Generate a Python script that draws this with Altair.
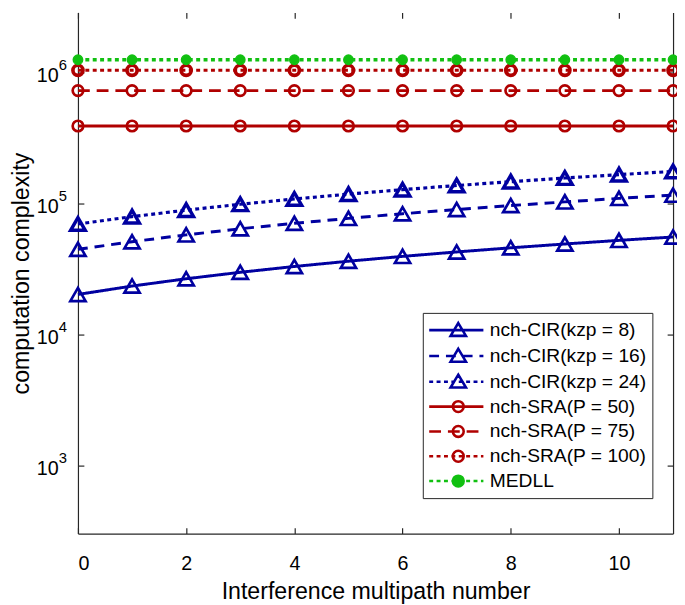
import altair as alt
import pandas as pd

# ---------------- data ----------------
x_vals = [0, 1, 2, 3, 4, 5, 6, 7, 8, 9, 10, 11]
cir_kzp8 = [20200, 23400, 26600, 29800, 33000, 36200, 39400, 42600, 45800, 49000, 52200, 55400]
cir_kzp16 = [44600, 51000, 57500, 64000, 70400, 76800, 83300, 89700, 96200, 102600, 109100, 115500]
cir_kzp24 = [69600, 79200, 88800, 98400, 108000, 117600, 127200, 136800, 146400, 156000, 165600, 175200]
sra_p50 = [389000, 389000, 389000, 389000, 389000, 389000, 389000, 389000, 389000, 389000, 389000, 389000]
sra_p75 = [724000, 724000, 724000, 724000, 724000, 724000, 724000, 724000, 724000, 724000, 724000, 724000]
sra_p100 = [1035000, 1035000, 1035000, 1035000, 1035000, 1035000, 1035000, 1035000, 1035000, 1035000, 1035000, 1035000]
medll = [1245000, 1245000, 1245000, 1245000, 1245000, 1245000, 1245000, 1245000, 1245000, 1245000, 1245000, 1245000]

series_names = [
    "nch-CIR(kzp = 8)", "nch-CIR(kzp = 16)", "nch-CIR(kzp = 24)",
    "nch-SRA(P = 50)", "nch-SRA(P = 75)", "nch-SRA(P = 100)", "MEDLL",
]
series_values = [cir_kzp8, cir_kzp16, cir_kzp24, sra_p50, sra_p75, sra_p100, medll]

x_ticks = [0, 2, 4, 6, 8, 10]
y_ticks = [1000, 10000, 100000, 1000000]

rows = []
for name, vals in zip(series_names, series_values):
    for xv, yv in zip(x_vals, vals):
        rows.append({"x": xv, "y": yv, "series": name})
df = pd.DataFrame(rows)

# ---------------- styles ----------------
BLUE = "#0000a0"
RED = "#b00000"
GREEN = "#11c011"
colors = [BLUE, BLUE, BLUE, RED, RED, RED, GREEN]
dashes = [[1, 0], [10, 7], [4, 3.5], [1, 0], [12, 7], [4, 3.5], [4, 3.5]]
markers = ["triangle-up"] * 3 + ["circle"] * 4
marker_sizes = [240, 240, 220, 115, 115, 105, 90]
marker_sw = [2.7, 2.7, 3.5, 2.7, 2.7, 3.7, 1.5]
marker_filled = [False] * 6 + [True]
line_widths = [3.0, 3.0, 3.2, 3.0, 3.0, 3.2, 3.6]

FONT = "Liberation Sans"
AX = "#262626"

xscale = alt.Scale(domain=[0, 11], nice=False, zero=False)
yscale = alt.Scale(type="log", domain=[303, 2.86e6], nice=False)
NEG_TICK = {"expr": "-6"}

# legend glyph paths: unit = 10 px (symbol size 400)
U = 10.0
X0, X1 = -1.1, 4.4          # line extent in units
MC = (X0 + X1) / 2 + 0.2    # marker centre


def seg_path(on, off):
    if off == 0:
        return f"M{X0},0H{X1}"
    parts = []
    x = X0
    while x < X1:
        x2 = min(x + on, X1)
        parts.append(f"M{x:.3f},0H{x2:.3f}")
        x = x2 + off
    return "".join(parts)


def tri(c):
    return f"M{c:.3f},-0.72L{c + 0.78:.3f},0.58L{c - 0.78:.3f},0.58Z"


def circ(c, r=0.55):
    return (f"M{c + r:.3f},0A{r},{r},0,1,1,{c - r:.3f},0"
            f"A{r},{r},0,1,1,{c + r:.3f},0Z")


legend_paths = []
for d, m in zip(dashes, markers):
    base = seg_path(d[0] / U, d[1] / U)
    legend_paths.append(base + (tri(MC) if m == "triangle-up" else circ(MC)))
legend_fills = ["transparent"] * 6 + [GREEN]

# ---------------- layers ----------------
axis_layer = alt.Chart(df).mark_point(opacity=0).encode(
    x=alt.X("x:Q", scale=xscale, axis=alt.Axis(
        values=x_ticks, format="d", tickSize=NEG_TICK, labelPadding=26,
        title="Interference multipath number", titlePadding=7, grid=False)),
    y=alt.Y("y:Q", scale=yscale, axis=alt.Axis(
        values=y_ticks, labelExpr="'10'", tickSize=NEG_TICK, labelPadding=26,
        labelOffset=3, title="computation complexity", titlePadding=3, grid=False)),
)

mirror_layer = alt.Chart(df).mark_point(opacity=0).encode(
    x=alt.X("x:Q", scale=xscale, axis=alt.Axis(
        orient="top", values=x_ticks, labels=False, domain=False,
        tickSize=NEG_TICK, title=None, grid=False)),
    y=alt.Y("y:Q", scale=yscale, axis=alt.Axis(
        orient="right", values=y_ticks, labels=False, domain=True,
        tickSize=NEG_TICK, title=None, grid=False)),
)

sup_expr = ("datum.value == 1000 ? '3' : datum.value == 10000 ? '4' : "
            "datum.value == 100000 ? '5' : '6'")
sup_layer = alt.Chart(df).mark_point(opacity=0).encode(
    x=alt.X("x:Q", scale=xscale, axis=None),
    y=alt.Y("y:Q", scale=yscale, axis=alt.Axis(
        orient="left", values=y_ticks, labelExpr=sup_expr, ticks=False,
        domain=False, labelAlign="left", labelPadding=20, labelOffset=-8,
        labelFontSize=15, title=None, grid=False)),
)

layers = [axis_layer, mirror_layer, sup_layer]

for i, name in enumerate(series_names):
    sub = alt.Chart(df).transform_filter(alt.datum.series == name)
    line = sub.mark_line(color=colors[i], strokeWidth=line_widths[i],
                         strokeDash=dashes[i], strokeCap="butt").encode(
        x=alt.X("x:Q", scale=xscale, axis=None),
        y=alt.Y("y:Q", scale=yscale, axis=None),
    )
    if marker_filled[i]:
        pts = sub.mark_point(shape=markers[i], filled=True, color=colors[i],
                             size=marker_sizes[i], opacity=1,
                             stroke=colors[i], strokeWidth=marker_sw[i])
    else:
        pts = sub.mark_point(shape=markers[i], filled=False, color=colors[i],
                             size=marker_sizes[i], opacity=1,
                             strokeWidth=marker_sw[i], fill="white", fillOpacity=0)
    pts = pts.encode(
        x=alt.X("x:Q", scale=xscale, axis=None),
        y=alt.Y("y:Q", scale=yscale, axis=None),
    )
    layers += [line, pts]

leg = alt.Legend(
    title=None, orient="none", legendX=350, legendY=305,
    symbolSize=U * U * 4, symbolStrokeWidth=2.6, labelFont=FONT,
    labelFontSize=19.5, labelColor="#000", labelOffset=39, labelLimit=400,
    padding=6, rowPadding=2.2, strokeColor=AX, fillColor="white",
    cornerRadius=0,
)
legend_layer = alt.Chart(df).transform_filter("false").mark_point(
    filled=False, opacity=1, strokeWidth=2.6).encode(
    x=alt.X("x:Q", scale=xscale, axis=None),
    y=alt.Y("y:Q", scale=yscale, axis=None),
    color=alt.Color("series:N", scale=alt.Scale(domain=series_names, range=colors), legend=leg),
    shape=alt.Shape("series:N", scale=alt.Scale(domain=series_names, range=legend_paths), legend=leg),
    fill=alt.Fill("series:N", scale=alt.Scale(domain=series_names, range=legend_fills), legend=leg),
)
layers.append(legend_layer)

chart = alt.layer(*layers).resolve_axis(
    x="independent", y="independent"
).properties(
    width=604, height=529,
    autosize=alt.AutoSizeParams(type="none"),
    padding={"left": 71, "top": 0, "right": 4, "bottom": 67},
).configure_view(stroke=None).configure_axis(
    labelFont=FONT, labelFontSize=20, labelColor="#000",
    titleFont=FONT, titleFontSize=23.5, titleFontWeight="normal", titleColor="#000",
    domainColor=AX, tickColor=AX, domainWidth=1.2, tickWidth=1.2,
)

chart.save("out.html", embed_options={"renderer": "svg", "actions": False})
